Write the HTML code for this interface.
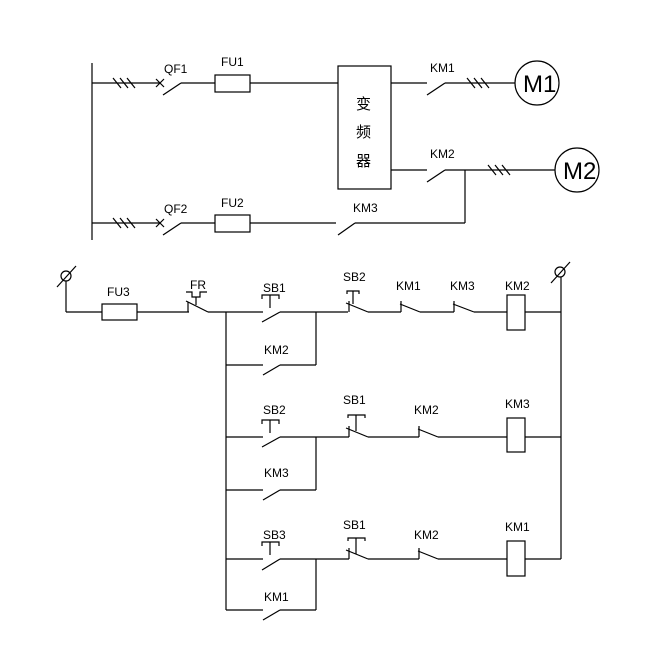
<!DOCTYPE html>
<html><head><meta charset="utf-8"><style>
html,body{margin:0;padding:0;background:#fff;}
svg{display:block;}
text{font-family:"Liberation Sans","Noto Sans CJK SC",sans-serif;font-size:12px;fill:#000;}
</style></head><body>
<svg width="658" height="660" viewBox="0 0 658 660" xmlns="http://www.w3.org/2000/svg">
<g stroke="#000" stroke-width="1.2" fill="none">
<!-- top power -->
<line x1="92" y1="63" x2="92" y2="240"/>
<!-- row1 -->
<line x1="92" y1="83" x2="160" y2="83"/>
<path d="M113 78l8 10M120 78l8 10M127 78l8 10"/>
<path d="M156 79l8 8M164 79l-8 8"/>
<line x1="163" y1="95" x2="181" y2="83"/>
<line x1="181" y1="83" x2="215" y2="83"/>
<rect x="215" y="75" width="35" height="17"/>
<line x1="250" y1="83" x2="338" y2="83"/>
<rect x="338" y="66" width="53" height="123"/>
<line x1="391" y1="83" x2="427" y2="83"/>
<line x1="427" y1="95" x2="445" y2="83"/>
<line x1="445" y1="83" x2="515" y2="83"/>
<path d="M467 78l8 10M474 78l8 10M481 78l8 10"/>
<circle cx="537" cy="83" r="22"/>
<!-- row KM2 -->
<line x1="391" y1="170" x2="427" y2="170"/>
<line x1="427" y1="182" x2="445" y2="170"/>
<line x1="445" y1="170" x2="555" y2="170"/>
<path d="M488 165l8 10M495 165l8 10M502 165l8 10"/>
<circle cx="577" cy="170" r="22"/>
<line x1="465" y1="170" x2="465" y2="223"/>
<!-- row2 -->
<line x1="92" y1="223" x2="160" y2="223"/>
<path d="M113 218l8 10M120 218l8 10M127 218l8 10"/>
<path d="M156 219l8 8M164 219l-8 8"/>
<line x1="163" y1="235" x2="181" y2="223"/>
<line x1="181" y1="223" x2="215" y2="223"/>
<rect x="215" y="215" width="35" height="17"/>
<line x1="250" y1="223" x2="336" y2="223"/>
<line x1="338" y1="235" x2="355" y2="223"/>
<line x1="355" y1="223" x2="465" y2="223"/>

<!-- control -->
<circle cx="66" cy="276" r="5"/>
<line x1="57" y1="287" x2="76" y2="266"/>
<line x1="66" y1="281" x2="66" y2="312"/>
<line x1="66" y1="312" x2="102" y2="312"/>
<rect x="102" y="304" width="35" height="16"/>
<line x1="137" y1="312" x2="189" y2="312"/>
<line x1="188" y1="302" x2="188" y2="312"/>
<line x1="186" y1="301" x2="208" y2="312"/>
<line x1="196" y1="297" x2="196" y2="305"/>
<path d="M186 292h6v5h8v-5h7"/>
<line x1="208" y1="312" x2="263" y2="312"/>
<!-- SB1 NO -->
<path d="M262 299v-4h17v4M270 295v13"/>
<line x1="262" y1="322" x2="280" y2="312"/>
<line x1="280" y1="312" x2="348" y2="312"/>
<line x1="316" y1="312" x2="316" y2="365"/>
<line x1="226" y1="312" x2="226" y2="610"/>
<line x1="226" y1="365" x2="263" y2="365"/>
<line x1="263" y1="375" x2="280" y2="365"/>
<line x1="280" y1="365" x2="316" y2="365"/>
<!-- SB2 NC -->
<path d="M347 294v-3h12v3M353 291v13"/>
<line x1="349" y1="301" x2="349" y2="312"/>
<line x1="346" y1="303" x2="368" y2="312"/>
<line x1="368" y1="312" x2="401" y2="312"/>
<line x1="401" y1="301" x2="401" y2="312"/>
<line x1="400" y1="304" x2="420" y2="312"/>
<line x1="420" y1="312" x2="454" y2="312"/>
<line x1="454" y1="301" x2="454" y2="312"/>
<line x1="453" y1="304" x2="474" y2="312"/>
<line x1="474" y1="312" x2="507" y2="312"/>
<rect x="507" y="295" width="18" height="35"/>
<line x1="525" y1="312" x2="561" y2="312"/>
<circle cx="560" cy="272" r="5"/>
<line x1="551" y1="283" x2="570" y2="262"/>
<line x1="561" y1="277" x2="561" y2="559"/>

<!-- row 2 -->
<line x1="226" y1="437" x2="263" y2="437"/>
<path d="M262 424v-4h17v4M270 420v13"/>
<line x1="262" y1="447" x2="280" y2="437"/>
<line x1="280" y1="437" x2="349" y2="437"/>
<line x1="316" y1="437" x2="316" y2="490"/>
<line x1="226" y1="490" x2="263" y2="490"/>
<line x1="263" y1="500" x2="280" y2="490"/>
<line x1="280" y1="490" x2="316" y2="490"/>
<path d="M348 418v-3h17v3M356 415v16"/>
<line x1="349" y1="426" x2="349" y2="437"/>
<line x1="346" y1="428" x2="368" y2="437"/>
<line x1="368" y1="437" x2="419" y2="437"/>
<line x1="419" y1="426" x2="419" y2="437"/>
<line x1="418" y1="429" x2="438" y2="437"/>
<line x1="438" y1="437" x2="507" y2="437"/>
<rect x="507" y="418" width="18" height="34"/>
<line x1="525" y1="437" x2="561" y2="437"/>

<!-- row 3 -->
<line x1="226" y1="559" x2="263" y2="559"/>
<path d="M262 546v-4h17v4M270 542v13"/>
<line x1="262" y1="570" x2="280" y2="559"/>
<line x1="280" y1="559" x2="349" y2="559"/>
<line x1="316" y1="559" x2="316" y2="610"/>
<line x1="226" y1="610" x2="263" y2="610"/>
<line x1="263" y1="620" x2="280" y2="610"/>
<line x1="280" y1="610" x2="316" y2="610"/>
<path d="M348 541v-3h17v3M356 538v16"/>
<line x1="349" y1="548" x2="349" y2="559"/>
<line x1="346" y1="550" x2="368" y2="559"/>
<line x1="368" y1="559" x2="419" y2="559"/>
<line x1="419" y1="548" x2="419" y2="559"/>
<line x1="418" y1="551" x2="438" y2="559"/>
<line x1="438" y1="559" x2="507" y2="559"/>
<rect x="507" y="541" width="18" height="35"/>
<line x1="525" y1="559" x2="561" y2="559"/>
</g>
<g>
<text x="164" y="73">QF1</text>
<text x="221" y="66">FU1</text>
<text x="430" y="72">KM1</text>
<text x="430" y="158">KM2</text>
<text x="164" y="213">QF2</text>
<text x="221" y="207">FU2</text>
<text x="353" y="212">KM3</text>
<text x="523" y="92" style="font-size:24px">M1</text>
<text x="563" y="179" style="font-size:24px">M2</text>
<text x="356" y="109" style="font-size:15px">变</text>
<text x="356" y="137" style="font-size:15px">频</text>
<text x="356" y="166" style="font-size:15px">器</text>
<text x="107" y="296">FU3</text>
<text x="190" y="289">FR</text>
<text x="263" y="292">SB1</text>
<text x="343" y="281">SB2</text>
<text x="396" y="290">KM1</text>
<text x="450" y="290">KM3</text>
<text x="505" y="290">KM2</text>
<text x="264" y="354">KM2</text>
<text x="263" y="414">SB2</text>
<text x="343" y="404">SB1</text>
<text x="414" y="414">KM2</text>
<text x="505" y="408">KM3</text>
<text x="264" y="477">KM3</text>
<text x="263" y="539">SB3</text>
<text x="343" y="529">SB1</text>
<text x="414" y="539">KM2</text>
<text x="505" y="531">KM1</text>
<text x="264" y="601">KM1</text>
</g>
</svg>
</body></html>
